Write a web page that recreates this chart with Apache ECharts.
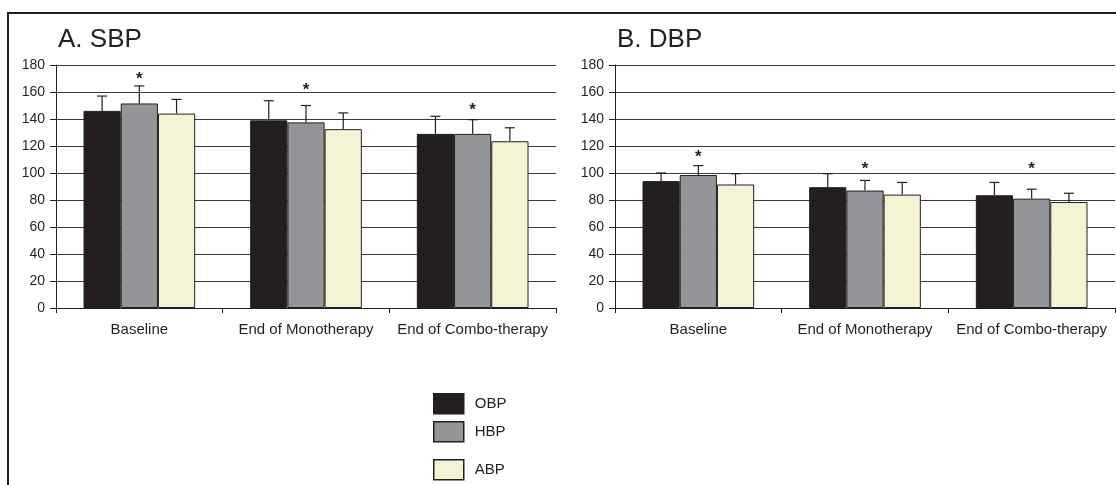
<!DOCTYPE html>
<html>
<head>
<meta charset="utf-8">
<title>SBP / DBP</title>
<script src="https://cdn.jsdelivr.net/npm/echarts@6/dist/echarts.min.js"></script>
<style>
    html, body { margin: 0; padding: 0; background: #fff; }
    #chart { width: 1116px; height: 485px; }
</style>
</head>
<body>
<div id="chart"></div>
<script>
// categories and series
let categories = ["Baseline", "End of Monotherapy", "End of Combo-therapy"];
let seriesNames = ["OBP", "HBP", "ABP"];

// A. SBP  (mean, upper SD)
let sbpOBP = [146, 139, 129];
let sbpOBPSd = [11, 14.5, 13];
let sbpHBP = [151.5, 137.5, 129];
let sbpHBPSd = [13, 12.5, 10.5];
let sbpABP = [144, 132.5, 123.5];
let sbpABPSd = [10.5, 12, 10];
let sbpStars = [173, 165, 150];

// B. DBP
let dbpOBP = [94, 89.5, 83.5];
let dbpOBPSd = [6, 10, 9.5];
let dbpHBP = [98.5, 87, 81];
let dbpHBPSd = [7, 7.5, 7];
let dbpABP = [91.5, 84, 78.5];
let dbpABPSd = [8, 9, 6.5];
let dbpStars = [115.5, 106.5, 106.5];

let yTicks = { min: 0, max: 180, interval: 20 };

let colors = ["#231f20", "#939598", "#f4f3d4"];
let ink = "#231f20";
let font = "'Liberation Sans', Arial, Helvetica, sans-serif";
let catGap = 0.33;

let myChart = echarts.init(document.getElementById("chart"));

function barSeries(name, values, gridIdx) {
    return {
        name: name,
        type: "bar",
        xAxisIndex: gridIdx,
        yAxisIndex: gridIdx,
        barGap: 0,
        barCategoryGap: "33%",
        data: values,
        itemStyle: {
            color: colors[seriesNames.indexOf(name)],
            borderColor: ink,
            borderWidth: 1
        },
        silent: true
    };
}

// upward error bars, placed over the matching bar of the group
function errorSeries(values, sds, slot, gridIdx) {
    let data = values.map((v, i) => [i, v, sds[i]]);
    return {
        type: "custom",
        xAxisIndex: gridIdx,
        yAxisIndex: gridIdx,
        silent: true,
        z: 5,
        data: data,
        renderItem: function (params, api) {
            let band = api.size([1, 0])[0];
            let barW = band * (1 - catGap) / 3;
            let base = api.coord([api.value(0), api.value(1)]);
            let top = api.coord([api.value(0), api.value(1) + api.value(2)]);
            let x = base[0] + (slot - 1) * barW;
            let style = { stroke: ink, lineWidth: 1.2 };
            return {
                type: "group",
                children: [
                    { type: "line", shape: { x1: x, y1: base[1], x2: x, y2: top[1] }, style: style },
                    { type: "line", shape: { x1: x - 5, y1: top[1], x2: x + 5, y2: top[1] }, style: style }
                ]
            };
        }
    };
}

// significance asterisks above the HBP bar
function starSeries(values, gridIdx) {
    return {
        type: "custom",
        xAxisIndex: gridIdx,
        yAxisIndex: gridIdx,
        silent: true,
        z: 6,
        data: values.map((v, i) => [i, v]),
        renderItem: function (params, api) {
            let p = api.coord([api.value(0), api.value(1)]);
            return {
                type: "text",
                x: p[0],
                y: p[1] + 5,
                style: {
                    text: "*",
                    fill: ink,
                    font: "bold 17px " + font,
                    align: "center",
                    verticalAlign: "middle"
                }
            };
        }
    };
}

function xAxisFor(gridIdx) {
    return {
        type: "category",
        gridIndex: gridIdx,
        data: categories,
        axisLine: { show: true, lineStyle: { color: ink, width: 1 } },
        axisTick: { show: true, length: 5, lineStyle: { color: ink } },
        axisLabel: { color: ink, fontSize: 15, fontFamily: font, margin: 14, interval: 0 },
        splitLine: { show: false }
    };
}

function yAxisFor(gridIdx) {
    return {
        type: "value",
        gridIndex: gridIdx,
        min: yTicks.min,
        max: yTicks.max,
        interval: yTicks.interval,
        axisLine: { show: true, lineStyle: { color: ink, width: 1 } },
        axisTick: { show: true, length: 6, lineStyle: { color: ink } },
        axisLabel: { color: ink, fontSize: 14, fontFamily: font, margin: 11 },
        splitLine: { show: true, lineStyle: { color: "#3a3a3a", width: 1 } }
    };
}

function legendFor(name, top) {
    return {
        data: [name],
        left: 433,
        top: top,
        orient: "vertical",
        itemWidth: 30,
        itemHeight: 20,
        selectedMode: false,
        padding: 0,
        icon: "rect",
        itemStyle: { borderColor: ink, borderWidth: 1.5 },
        textStyle: { color: ink, fontSize: 15, fontFamily: font, padding: [0, 0, 0, 6] }
    };
}

let option = {
    backgroundColor: "#fff",
    animation: false,
    title: [
        { text: "A. SBP", left: 53, top: 22, textStyle: { color: ink, fontSize: 26, fontWeight: "normal", fontFamily: font } },
        { text: "B. DBP", left: 612, top: 22, textStyle: { color: ink, fontSize: 26, fontWeight: "normal", fontFamily: font } }
    ],
    grid: [
        { left: 56, width: 500, top: 65, height: 243 },
        { left: 615, width: 500, top: 65, height: 243 }
    ],
    xAxis: [xAxisFor(0), xAxisFor(1)],
    yAxis: [yAxisFor(0), yAxisFor(1)],
    legend: [legendFor("OBP", 393), legendFor("HBP", 421), legendFor("ABP", 459)],
    // frame along the top and left edge
    graphic: [
        { type: "polyline", shape: { points: [[8, 490], [8, 13], [1120, 13]] }, style: { stroke: "#231f20", lineWidth: 2, fill: null } }
    ],
    series: [
        barSeries("OBP", sbpOBP, 0),
        barSeries("HBP", sbpHBP, 0),
        barSeries("ABP", sbpABP, 0),
        errorSeries(sbpOBP, sbpOBPSd, 0, 0),
        errorSeries(sbpHBP, sbpHBPSd, 1, 0),
        errorSeries(sbpABP, sbpABPSd, 2, 0),
        starSeries(sbpStars, 0),
        barSeries("OBP", dbpOBP, 1),
        barSeries("HBP", dbpHBP, 1),
        barSeries("ABP", dbpABP, 1),
        errorSeries(dbpOBP, dbpOBPSd, 0, 1),
        errorSeries(dbpHBP, dbpHBPSd, 1, 1),
        errorSeries(dbpABP, dbpABPSd, 2, 1),
        starSeries(dbpStars, 1)
    ]
};

myChart.setOption(option);
</script>
</body>
</html>
